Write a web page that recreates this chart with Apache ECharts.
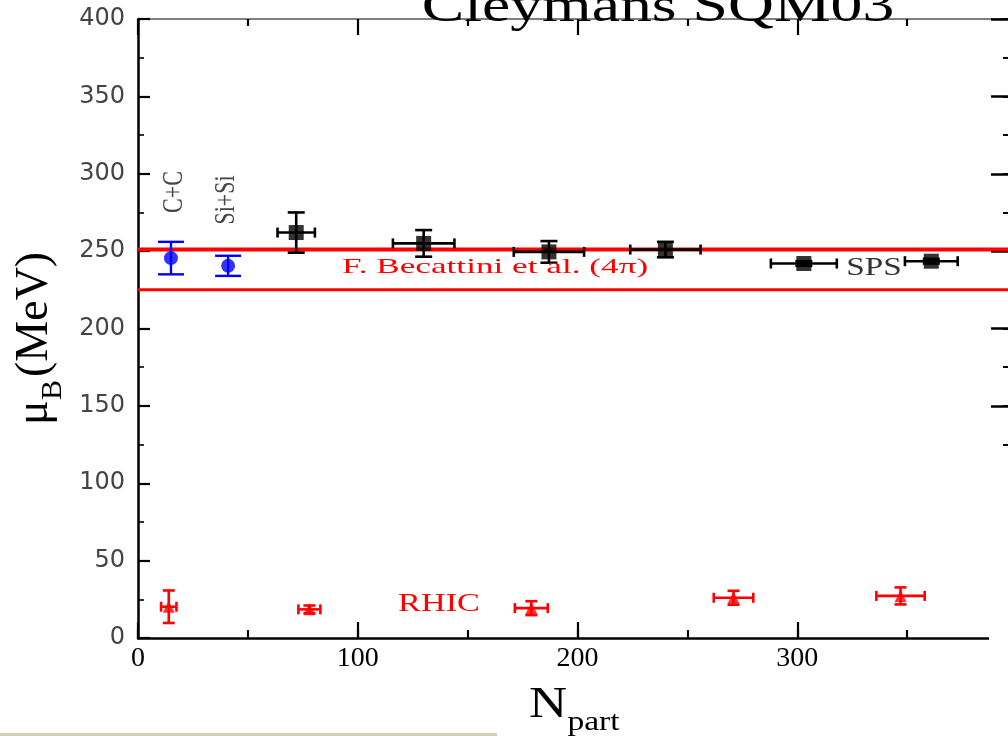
<!DOCTYPE html>
<html><head><meta charset="utf-8">
<script src="https://cdn.jsdelivr.net/npm/echarts@6/dist/echarts.min.js"></script>
<style>html,body{margin:0;padding:0;background:#fff}#c{width:1008px;height:736px}</style>
</head><body><div id="c"></div>
<script>
// ---- data ----
const xRange = [0, 400];
const yRange = [0, 400];
const xMajorStep = 100, xMinorStep = 50;
const yMajorStep = 50, yMinorStep = 25;

// light-ion systems (blue)
const lightNames = ['C+C', 'Si+Si'];
const lightX = [15, 41];
const lightY = [245.5, 240.5];
const lightXerr = [0, 0];
const lightYerr = [10.5, 6.5];

// SPS Pb+Pb (black)
const spsX = [72, 130, 187, 240, 303, 361];
const spsY = [262, 255, 249.5, 251, 242, 243.5];
const spsXerr = [8.5, 14, 16, 16, 15, 12];
const spsYerr = [13, 8.6, 7, 5, 1.5, 1.5];

// RHIC Au+Au (red)
const rhicX = [14, 78, 179, 271, 347];
const rhicY = [20.2, 18.5, 19.3, 26, 27.2];
const rhicXerr = [3.5, 5, 7.5, 9, 11];
const rhicYerr = [10.5, 2.5, 4.5, 4.5, 5.5];

// Becattini et al. (4pi) band limits
const becattiniUpper = 251;
const becattiniLower = 225;

const rows = (xs, ys, exs, eys) => xs.map((x, i) => [x, ys[i], exs[i], eys[i]]);

function makeErr(color, capV, capH, lw) {
  return function (params, api) {
    const x = api.value(0), y = api.value(1), ex = api.value(2), ey = api.value(3);
    const st = { stroke: color, lineWidth: lw, fill: null };
    const kids = [];
    const seg = (x1, y1, x2, y2) => kids.push({ type: 'line', shape: { x1, y1, x2, y2 }, style: st });
    if (ex > 0) {
      const a = api.coord([x - ex, y]), b = api.coord([x + ex, y]);
      seg(a[0], a[1], b[0], b[1]);
      seg(a[0], a[1] - capH, a[0], a[1] + capH);
      seg(b[0], b[1] - capH, b[0], b[1] + capH);
    }
    if (ey > 0) {
      const a = api.coord([x, y + ey]), b = api.coord([x, y - ey]);
      seg(a[0], a[1], b[0], b[1]);
      seg(a[0] - capV, a[1], a[0] + capV, a[1]);
      seg(b[0] - capV, b[1], b[0] + capV, b[1]);
    }
    return { type: 'group', children: kids };
  };
}

const chart = echarts.init(document.getElementById('c'), null, { renderer: 'canvas' });
const serif = '"Liberation Serif", "Times New Roman", serif';

function axis(range, pos, step, len, lw, line, labels) {
  return {
    type: 'value', position: pos, offset: 0, min: range[0], max: range[1], interval: step,
    splitLine: { show: false },
    axisLine: line ? { show: true, onZero: false, lineStyle: line } : { show: false, onZero: false },
    axisTick: { show: true, inside: true, length: len, lineStyle: { color: '#000', width: lw } },
    axisLabel: labels ? labels : { show: false }
  };
}
const topAxis = axis(xRange, 'top', xMajorStep, 16, 2.2, { color: '#555', width: 1.5 }, { show: false });
topAxis.minorTick = { show: true, splitNumber: xMajorStep / xMinorStep, length: 7, lineStyle: { color: '#000', width: 2.2 } };
topAxis.minorSplitLine = { show: false };

chart.setOption({
  animation: false,
  backgroundColor: '#fff',
  grid: { left: 138, top: 19, right: -9, bottom: 98, outerBoundsMode: 'none', containLabel: false },
  xAxis: [
    axis(xRange, 'bottom', xMajorStep, 16, 2.2, { color: '#000', width: 2.5 },
        { fontFamily: serif, fontSize: 28, color: '#000', margin: 7 }),
    axis(xRange, 'bottom', xMinorStep, 8, 2.2, null, null),
    topAxis
  ],
  yAxis: [
    axis(yRange, 'left', yMajorStep, 12, 2.2, { color: '#000', width: 2.5 },
        { fontFamily: '"DejaVu Sans", Verdana, sans-serif', fontSize: 24, color: '#444', margin: 13 }),
    axis(yRange, 'left', yMinorStep, 6, 1.6, null, null),
    axis(yRange, 'right', yMajorStep, 26, 2.5, { color: '#000', width: 2.5 }, null),
    axis(yRange, 'right', yMinorStep, 14, 2, null, null)
  ],
  series: [
    { type: 'line', data: [[xRange[0], becattiniUpper], [xRange[1], becattiniUpper]], symbol: 'none',
      lineStyle: { color: '#ff0000', width: 4 }, z: 3 },
    { type: 'line', data: [[xRange[0], becattiniLower], [xRange[1], becattiniLower]], symbol: 'none',
      lineStyle: { color: '#ff0000', width: 3 }, z: 3 },
    { type: 'custom', renderItem: makeErr('#000', 8.5, 5, 2.6), encode: { x: 0, y: 1 },
      data: rows(spsX, spsY, spsXerr, spsYerr), z: 4 },
    { type: 'custom', renderItem: makeErr('#0000ff', 13, 5, 2.4), encode: { x: 0, y: 1 },
      data: rows(lightX, lightY, lightXerr, lightYerr), z: 4 },
    { type: 'custom', renderItem: makeErr('#ff0000', 6, 5, 2.6), encode: { x: 0, y: 1 },
      data: rows(rhicX, rhicY, rhicXerr, rhicYerr), z: 4 },
    { type: 'scatter', data: spsX.map((x, i) => [x, spsY[i]]), symbol: 'rect', symbolSize: 15,
      itemStyle: { color: '#000' }, z: 5 },
    { type: 'scatter', data: lightX.map((x, i) => [x, lightY[i]]), symbol: 'circle', symbolSize: 14,
      itemStyle: { color: '#0000ff' }, z: 5 },
    { type: 'scatter', data: rhicX.map((x, i) => [x, rhicY[i]]), symbol: 'triangle', symbolSize: 12,
      itemStyle: { color: '#ff0000' }, z: 5 }
  ],
  graphic: [
    { type: 'rect', shape: { x: 989, y: 452, width: 30, height: 290 }, style: { fill: '#fff' }, z: 100 },
    { type: 'rect', shape: { x: 0, y: 733, width: 497, height: 3 }, style: { fill: '#d5d2b2' }, z: 100 },
    { type: 'text', x: 658, y: 33, scaleX: 1.3, z: 100,
      style: { text: 'Cleymans SQM03', font: '49px ' + serif, fill: '#000', align: 'center', verticalAlign: 'bottom' } },
    { type: 'text', x: 495, y: 267, scaleX: 1.6, z: 100,
      style: { text: 'F. Becattini et al. (4π)', font: '22px ' + serif, fill: '#ff0000', align: 'center', verticalAlign: 'middle' } },
    { type: 'text', x: 874, y: 268, scaleX: 1.33, z: 100,
      style: { text: 'SPS', font: '25px ' + serif, fill: '#333', align: 'center', verticalAlign: 'middle' } },
    { type: 'text', x: 439, y: 604, scaleX: 1.37, z: 100,
      style: { text: 'RHIC', font: '25px ' + serif, fill: '#ff0000', align: 'center', verticalAlign: 'middle' } },
    { type: 'text', x: 174, y: 192, rotation: Math.PI / 2, scaleY: 1.3, z: 100,
      style: { text: 'C+C', font: '22px ' + serif, fill: '#444', align: 'center', verticalAlign: 'middle' } },
    { type: 'text', x: 226, y: 200, rotation: Math.PI / 2, scaleY: 1.3, z: 100,
      style: { text: 'Si+Si', font: '22px ' + serif, fill: '#444', align: 'center', verticalAlign: 'middle' } },
    // y-axis title  μ_B (MeV)
    { type: 'group', x: 58, y: 425, rotation: Math.PI / 2, z: 100, children: [
      { type: 'text', x: 0, y: 0, style: { text: 'μ', font: '46px ' + serif, fill: '#000', align: 'left', verticalAlign: 'bottom' } },
      { type: 'text', x: 25, y: 10, style: { text: 'B', font: '30px ' + serif, fill: '#000', align: 'left', verticalAlign: 'bottom' } },
      { type: 'text', x: 48, y: 0, style: { text: '(MeV)', font: '46px ' + serif, fill: '#000', align: 'left', verticalAlign: 'bottom' } }
    ] },
    // x-axis title  N_part
    { type: 'group', x: 529, y: 727, scaleX: 1.2, z: 100, children: [
      { type: 'text', x: 0, y: 0, style: { text: 'N', font: '44px ' + serif, fill: '#000', align: 'left', verticalAlign: 'bottom' } },
      { type: 'text', x: 32, y: 10, style: { text: 'part', font: '28px ' + serif, fill: '#000', align: 'left', verticalAlign: 'bottom' } }
    ] }
  ]
});
</script>
</body></html>
